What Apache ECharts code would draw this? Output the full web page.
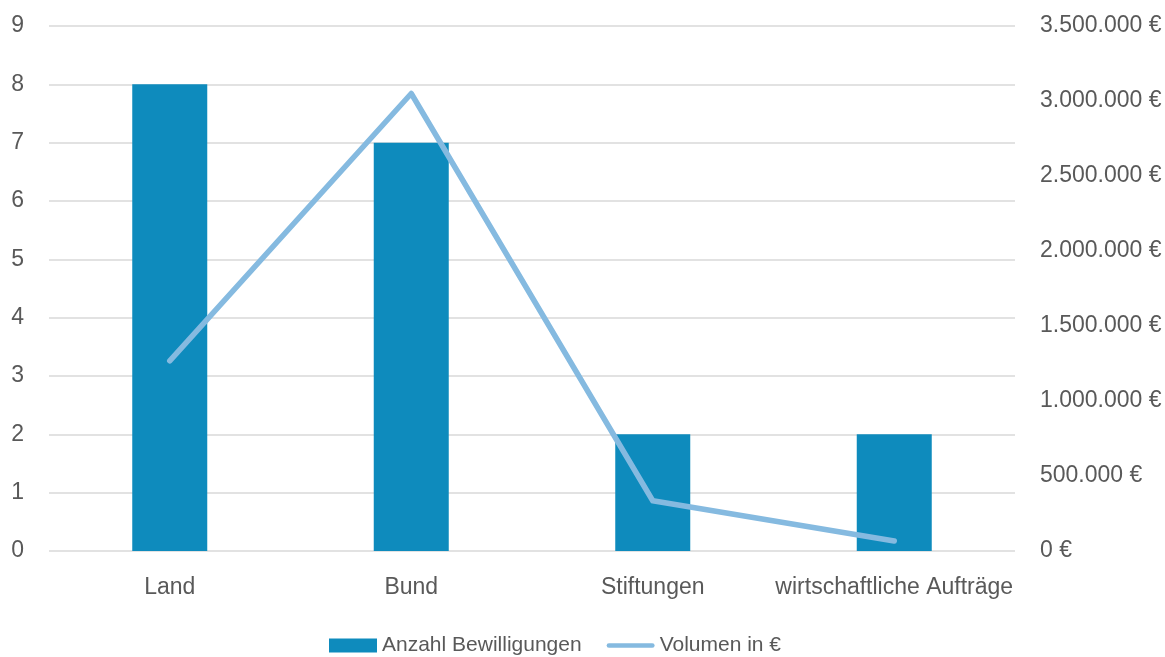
<!DOCTYPE html>
<html>
<head>
<meta charset="utf-8">
<script src="https://cdn.jsdelivr.net/npm/echarts@6/dist/echarts.min.js"></script>
<style>
html,body{margin:0;padding:0;background:#fff;overflow:hidden;}
#c{width:1165px;height:657px;}
</style>
</head>
<body>
<div id="c"></div>
<script>
const categories = ['Land', 'Bund', 'Stiftungen', 'wirtschaftliche Aufträge'];
const anzahlBewilligungen = [8, 7, 2, 2];
const volumen = [1268000, 3050000, 335000, 67000];
const leftTicks = { min: 0, max: 9, interval: 1 };
const rightTicks = { min: 0, max: 3500000, interval: 500000 };

const FONT = "'Liberation Sans Narrow', 'Arial Narrow', 'Liberation Sans', Arial, sans-serif";
const TXT = '#595959';

function euro(v) {
  return String(Math.round(v)).replace(/\B(?=(\d{3})+(?!\d))/g, '.') + ' €';
}

const el = document.getElementById('c');
const chart = echarts.init(el, null, { width: 1165, height: 657 });
chart.setOption({
  animation: false,
  textStyle: { fontFamily: FONT },
  grid: { left: 49, right: 150, top: 26, bottom: 106, containLabel: false },
  xAxis: {
    type: 'category',
    data: categories,
    axisTick: { show: false },
    axisLine: { show: false },
    axisLabel: { color: TXT, fontSize: 23, fontFamily: FONT, margin: 25, interval: 0 }
  },
  yAxis: [
    {
      type: 'value', min: leftTicks.min, max: leftTicks.max, interval: leftTicks.interval,
      axisLine: { show: false }, axisTick: { show: false },
      axisLabel: { color: TXT, fontSize: 23, fontFamily: FONT, margin: 25 },
      splitLine: { lineStyle: { color: '#d9d9d9', width: 1.5 } }
    },
    {
      type: 'value', min: rightTicks.min, max: rightTicks.max, interval: rightTicks.interval,
      position: 'right',
      axisLine: { show: false }, axisTick: { show: false },
      axisLabel: { color: TXT, fontSize: 23, fontFamily: FONT, margin: 25, formatter: euro },
      splitLine: { show: false }
    }
  ],
  legend: {
    bottom: 1,
    left: 329,
    padding: 0,
    itemWidth: 48,
    itemHeight: 14,
    itemGap: 25,
    textStyle: { color: TXT, fontSize: 21, fontFamily: FONT },
    data: [
      { name: 'Anzahl Bewilligungen', icon: 'rect' },
      { name: 'Volumen in €', icon: 'path://M2.5,0 L49.5,0 A2.5,2.5 0 0 1 49.5,5 L2.5,5 A2.5,2.5 0 0 1 2.5,0 Z', itemStyle: { color: '#85bae0' } }
    ]
  },
  series: [
    {
      name: 'Anzahl Bewilligungen',
      type: 'bar',
      yAxisIndex: 0,
      data: anzahlBewilligungen,
      barWidth: 75,
      itemStyle: { color: '#0e8bbd' }
    },
    {
      name: 'Volumen in €',
      type: 'line',
      yAxisIndex: 1,
      data: volumen,
      symbol: 'none',
      lineStyle: { color: '#85bae0', width: 5.5, cap: 'round', join: 'round' },
      itemStyle: { color: '#85bae0' }
    }
  ]
});
</script>
</body>
</html>
